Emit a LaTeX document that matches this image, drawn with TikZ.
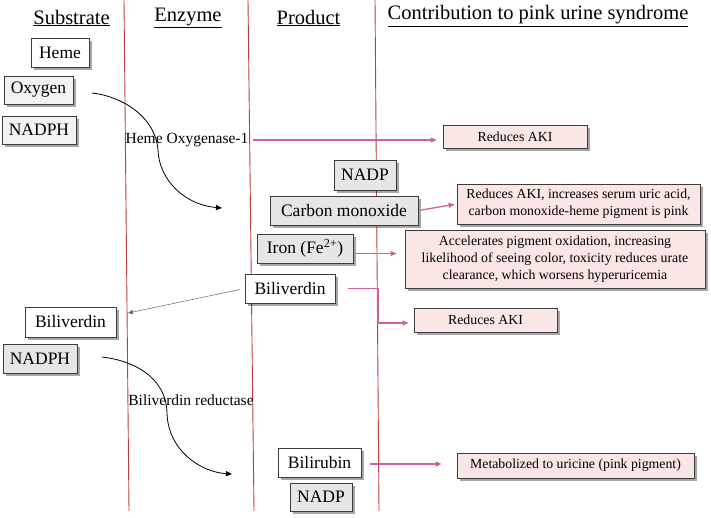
\documentclass[tikz,border=0pt]{standalone}
\usepackage{fontspec}
\setmainfont{Liberation Serif}
\usetikzlibrary{shadows,arrows.meta}
\definecolor{vline}{RGB}{190,60,60}
\definecolor{pinkline}{RGB}{208,96,160}
\definecolor{pinkfill}{RGB}{250,230,228}
\definecolor{greyfill}{RGB}{230,230,230}
\definecolor{lgreyfill}{RGB}{242,242,242}
\definecolor{boxline}{RGB}{60,60,60}
\tikzset{
  x=1pt, y=-1pt,
  base/.style={draw=boxline, line width=0.8pt, inner sep=0pt, align=center,
    drop shadow={shadow xshift=2.5pt, shadow yshift=-2.5pt, fill=black, opacity=0.35}},
  whitebox/.style={base, fill=white, font=\fontsize{17.5}{20}\selectfont},
  greybox/.style={base, fill=greyfill, font=\fontsize{17.5}{20}\selectfont},
  lgreybox/.style={base, fill=lgreyfill, font=\fontsize{17.5}{20}\selectfont},
  pinkbox/.style={base, fill=pinkfill, font=\fontsize{13.8}{17.3}\selectfont},
  header/.style={font=\fontsize{20.5}{24}\selectfont, inner sep=0pt},
  enz/.style={font=\fontsize{15.5}{18}\selectfont, inner sep=1pt},
  parr/.style={draw=pinkline, line width=1.3pt, -{Triangle[length=6pt,width=5pt]}},
  carr/.style={draw=black, line width=0.8pt, -{Triangle[length=6pt,width=5pt]}},
  garr/.style={draw=gray!80!black, line width=0.5pt, -{Triangle[length=5pt,width=4pt]}},
  sep/.style={draw=vline, line width=0.9pt}
}
\begin{document}
\begin{tikzpicture}
\useasboundingbox (0,0) rectangle (711,517);
% column separators
\coordinate (l1t) at (124,0); \coordinate (l1b) at (129,511);
\coordinate (l2t) at (248,0); \coordinate (l2b) at (254,511);
\coordinate (l3t) at (375,0); \coordinate (l3b) at (379,511);
\draw[sep] (l1t) -- (l1b);
\draw[sep] (l2t) -- (l2b);
\draw[sep] (l3t) -- (l3b);
% headers
\node[header] (hs) at (71.5,18) {\underline{Substrate}};
\node[header] (he) at (188,18) {\underline{Enzyme}};
\node[header] (hp) at (308.5,18) {\underline{Product}};
\node[header] (hc) at (538,16) {\underline{Contribution to pink urine syndrome}};
% substrate boxes
\node[whitebox, minimum width=58pt, minimum height=29pt] (heme) at (60,52.5) {Heme};
\node[lgreybox, minimum width=69pt, minimum height=28pt] (oxy) at (38.5,90) {Oxygen};
\node[lgreybox, minimum width=74pt, minimum height=28pt] (nadph1) at (39,130) {NADPH};
\node[whitebox, minimum width=91pt, minimum height=30pt] (bv2) at (70.5,322) {Biliverdin};
\node[greybox, minimum width=74pt, minimum height=29pt] (nadph2) at (40,358.5) {NADPH};
% enzymes
\node[enz] (ho) at (187,140) {Heme Oxygenase-1};
\node[enz] (bvr) at (191,400) {Biliverdin reductase};
% products
\node[greybox, minimum width=62pt, minimum height=30pt] (nadp1) at (365,175) {NADP};
\node[greybox, minimum width=148pt, minimum height=29pt] (co) at (344,210.5) {Carbon monoxide};
\node[greybox, minimum width=96pt, minimum height=29pt] (fe) at (305,248.5) {Iron (Fe\textsuperscript{2+})};
\node[whitebox, minimum width=90pt, minimum height=29pt] (bv1) at (290,288.5) {Biliverdin};
\node[whitebox, minimum width=83pt, minimum height=29pt] (br) at (319.5,462.5) {Bilirubin};
\node[greybox, minimum width=62pt, minimum height=28pt] (nadp2) at (321,497) {NADP};
% contributions
\node[pinkbox, minimum width=144pt, minimum height=23pt] (r1) at (515,136.5) {Reduces AKI};
\node[pinkbox, minimum width=243pt, minimum height=40pt] (r2) at (578.5,204) {Reduces AKI, increases serum uric acid,\\carbon monoxide-heme pigment is pink};
\node[pinkbox, minimum width=300pt, minimum height=58pt] (r3) at (555,259) {Accelerates pigment oxidation, increasing\\likelihood of seeing color, toxicity reduces urate\\clearance, which worsens hyperuricemia};
\node[pinkbox, minimum width=143pt, minimum height=24pt] (r4) at (485.5,320) {Reduces AKI};
\node[pinkbox, minimum width=237pt, minimum height=25pt] (r5) at (575.5,465.5) {Metabolized to uricine (pink pigment)};
% curved reaction arrows
\coordinate (c1s) at (92,93);
\coordinate (c1m) at (158,150);
\coordinate (c1e) at (222,208);
\draw[carr] (c1s) .. controls (120,96) and (155,115) .. (c1m) .. controls (159,180) and (185,205) .. (c1e);
\coordinate (c2s) at (102,357);
\coordinate (c2m) at (167,413);
\coordinate (c2e) at (232,474);
\draw[carr] (c2s) .. controls (130,360) and (166,375) .. (c2m) .. controls (168,450) and (200,472) .. (c2e);
% pink arrows
\draw[parr, shorten <=3pt, shorten >=6pt] (ho.east) -- (ho.east -| r1.west);
\draw[parr, shorten <=2pt, shorten >=2pt] (co.east) -- (r2.west);
\draw[parr, shorten <=2pt, shorten >=8pt] ([yshift=-5pt]fe.east) -- ([yshift=-5pt]fe.east -| r3.west);
\coordinate (bvc) at (378,323);
\draw[parr, shorten <=13pt, shorten >=5pt] (bv1.east) -| (bvc) -- (bvc -| r4.west);
\draw[parr, shorten <=9pt, shorten >=15pt] ([yshift=-1.5pt]br.east) -- ([yshift=-1.5pt]br.east -| r5.west);
% thin grey arrow
\coordinate (bvt) at (128,313);
\draw[garr, shorten <=5pt] (bv1.west) -- (bvt);
\end{tikzpicture}
\end{document}
